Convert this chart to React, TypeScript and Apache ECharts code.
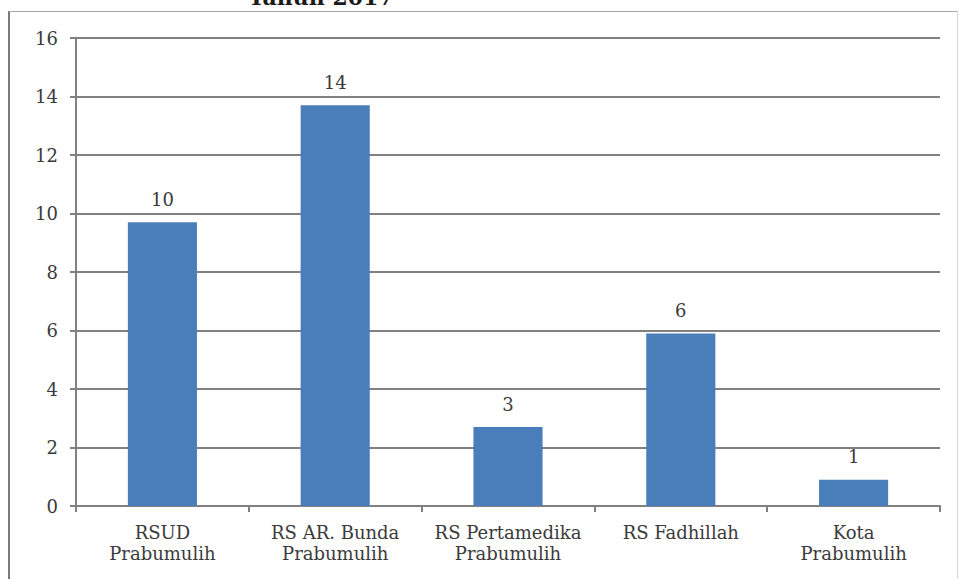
import React, { useEffect, useRef } from "react";
import * as echarts from "echarts";

const categories = [
  "RSUD\nPrabumulih",
  "RS AR. Bunda\nPrabumulih",
  "RS Pertamedika\nPrabumulih",
  "RS Fadhillah",
  "Kota\nPrabumulih",
];
const values = [9.7, 13.7, 2.7, 5.9, 0.9];
const valueLabels = ["10", "14", "3", "6", "1"];
const yTicks = { min: 0, max: 16, interval: 2 };
const titleText = "Tahun 2017";

const FONT = "'DejaVu Serif', 'Liberation Serif', serif";

export default function App() {
  const ref = useRef<HTMLDivElement>(null);
  useEffect(() => {
    if (!ref.current) return;
    const chart = echarts.init(ref.current, undefined, { renderer: "svg" });
    chart.setOption({
      animation: false,
      backgroundColor: "#ffffff",
      grid: { left: 76, right: 19, top: 38, bottom: 73, containLabel: false },
      graphic: [
        {
          type: "line",
          shape: { x1: 9, y1: 11, x2: 9, y2: 600 },
          style: { stroke: "#7a7a7a", lineWidth: 2 },
        },
        {
          type: "line",
          shape: { x1: 9, y1: 11.5, x2: 958, y2: 11.5 },
          style: { stroke: "#a8a8a8", lineWidth: 1 },
        },
        {
          type: "line",
          shape: { x1: 957.5, y1: 11, x2: 957.5, y2: 600 },
          style: { stroke: "#d8d8d8", lineWidth: 1 },
        },
        {
          type: "text",
          x: 321,
          y: 8,
          style: {
            text: titleText,
            font: `bold 22px ${FONT}`,
            fill: "#1a1a1a",
            textAlign: "center",
            textVerticalAlign: "bottom",
          },
        },
      ],
      xAxis: {
        type: "category",
        data: categories,
        axisLine: { show: true, lineStyle: { color: "#808080", width: 2 } },
        axisTick: { show: true, alignWithLabel: false, length: 6, lineStyle: { color: "#808080", width: 2 } },
        axisLabel: {
          interval: 0,
          margin: 16,
          fontFamily: FONT,
          fontSize: 18,
          lineHeight: 21,
          color: "#3a3a3a",
        },
        splitLine: { show: false },
      },
      yAxis: {
        type: "value",
        min: yTicks.min,
        max: yTicks.max,
        interval: yTicks.interval,
        axisLine: { show: true, lineStyle: { color: "#808080", width: 2 } },
        axisTick: { show: true, length: 6, lineStyle: { color: "#808080", width: 2 } },
        axisLabel: {
          margin: 18,
          fontFamily: FONT,
          fontSize: 18,
          color: "#3a3a3a",
        },
        splitLine: { show: true, lineStyle: { color: "#808080", width: 2 } },
      },
      series: [
        {
          type: "bar",
          data: values,
          barWidth: "40%",
          itemStyle: { color: "#4a7ebb" },
          label: {
            show: true,
            position: "top",
            distance: 14,
            fontFamily: FONT,
            fontSize: 18,
            color: "#3a3a3a",
            formatter: (p: any) => valueLabels[p.dataIndex],
          },
        },
      ],
    });
    return () => chart.dispose();
  }, []);
  return (
    <div
      ref={ref}
      style={{ position: "fixed", left: 0, top: 0, width: 959, height: 579 }}
    />
  );
}
